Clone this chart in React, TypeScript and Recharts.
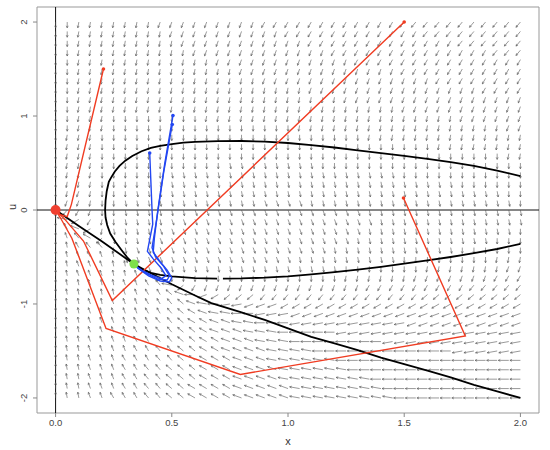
import React from "react";
import {
  ComposedChart,
  ReferenceArea,
  ReferenceLine,
  Scatter,
  XAxis,
  YAxis,
} from "recharts";

// grid of the direction field
const xGrid = [
  0, 0.05, 0.1, 0.15, 0.2, 0.25, 0.3, 0.35, 0.4, 0.45, 0.5, 0.55, 0.6, 0.65, 0.7, 0.75, 0.8, 0.85, 0.9, 0.95, 1,
  1.05, 1.1, 1.15, 1.2, 1.25, 1.3, 1.35, 1.4, 1.45, 1.5, 1.55, 1.6, 1.65, 1.7, 1.75, 1.8, 1.85, 1.9, 1.95, 2,
];
const uGrid = [
  2, 1.9, 1.8, 1.7, 1.6, 1.5, 1.4, 1.3, 1.2, 1.1, 1, 0.9, 0.8, 0.7, 0.6, 0.5, 0.4, 0.3, 0.2, 0.1, 0,
  -0.1, -0.2, -0.3, -0.4, -0.5, -0.6, -0.7, -0.8, -0.9, -1, -1.1, -1.2, -1.3, -1.4, -1.5, -1.6, -1.7, -1.8, -1.9, -2,
];

// arrow directions per row (top to bottom), run-length coded:
// letter = angle / 10 deg ("0".."9","a".."z"), number = how many arrows in a row
const dirRows = [
  "r2 q7 p9 o12 n11",
  "r2 q8 p10 o12 n9",
  "r2 q9 p11 o13 n6",
  "r2 q10 p12 o14 n3",
  "r2 q12 p12 o15",
  "r2 q14 p14 o11",
  "r2 q16 p15 o8",
  "r2 q20 p15 o4",
  "r2 q23 p16",
  "r2 q28 p11",
  "r2 q3 r8 q22 p6",
  "r2 q3 r16 q18 p2",
  "r1 q3 r23 q14",
  "r1 q3 r29 q8",
  "r1 q3 r35 q2",
  "r1 q3 r11 s8 r18",
  "r1 q3 r6 s20 r11",
  "r1 q3 r4 s27 r6",
  "r1 q1 p1 q1 r3 s32 r2",
  "r1 p2 q1 r2 s12 t4 s18 r1",
  ".1 n1 o1 p1 r2 s6 t15 s14",
  "91 h1 l1 o1 q1 r1 s4 t18 s13",
  "91 c1 g1 l1 q1 s4 t18 s13 r1",
  "91 b1 d1 f1 m1 s3 t18 s12 r3",
  "91 a1 c1 d2 q1 s1 t17 s11 r6",
  "91 a1 b1 c1 b1 a1 t15 s9 r8 q3",
  "91 a1 b3 a2 91 t2 s15 r7 q7 p2",
  "91 a1 b3 a2 b1 c1 o1 r15 q6 p7 o3",
  "91 a2 b1 a2 b2 c1 d1 h1 m1 o1 p14 o9 n5",
  "91 a2 b1 a2 b2 c2 e1 g1 i1 k1 l1 m3 n14 m9",
  "91 a2 b1 a1 b3 c2 d1 e1 g1 h1 i1 j2 k3 l21",
  "91 a2 b5 c2 d1 e1 f1 g1 h2 i2 j3 k20",
  "91 a2 b4 c2 d2 e1 f2 g2 h2 i3 j10 k10",
  "91 a2 b4 c2 d2 e2 f1 g3 h3 i5 j16",
  "91 a2 b4 c2 d2 e2 f2 g3 h3 i8 j12",
  "91 a2 b4 c2 d2 e2 f2 g4 h4 i12 j6",
  "91 a2 b3 c3 d2 e2 f3 g3 h6 i16",
  "91 a2 b3 c2 d2 e3 f3 g4 h6 i15",
  "91 a2 b3 c2 d2 e3 f3 g4 h8 i13",
  "91 a2 b3 c2 d2 e2 f4 g5 h8 i12",
  "91 a2 b2 c3 d2 e2 f4 g5 h9 i11",
];

// nullclines
const xNullA: [number, number][] = [
  [2.0, 0.36], [1.9, 0.42], [1.8, 0.47], [1.7, 0.51], [1.6, 0.545], [1.5, 0.575], [1.4, 0.605],
  [1.3, 0.635], [1.2, 0.665], [1.1, 0.69], [1.0, 0.713], [0.9, 0.727], [0.8, 0.734], [0.7, 0.733],
  [0.6, 0.725], [0.55, 0.716], [0.5, 0.702], [0.45, 0.683], [0.41, 0.66], [0.37, 0.625], [0.33, 0.575],
  [0.3, 0.525], [0.275, 0.47], [0.255, 0.41], [0.24, 0.35], [0.229, 0.3], [0.22, 0.2], [0.215, 0.1],
  [0.213, 0.0], [0.215, -0.08], [0.222, -0.16], [0.235, -0.25], [0.258, -0.34], [0.285, -0.43],
  [0.31, -0.51], [0.337, -0.575], [0.37, -0.63], [0.41, -0.668], [0.45, -0.69], [0.5, -0.706],
  [0.6, -0.724], [0.695, -0.73],
];
const xNullB: [number, number][] = [
  [0.72, -0.73], [0.8, -0.728], [0.9, -0.72], [1.0, -0.706], [1.1, -0.685], [1.2, -0.66], [1.3, -0.635],
  [1.4, -0.605], [1.5, -0.57], [1.6, -0.535], [1.7, -0.5], [1.8, -0.46], [1.9, -0.415], [2.0, -0.36],
];
const uNull: [number, number][] = [
  [0, 0], [0.1, -0.17], [0.2, -0.335], [0.3, -0.51], [0.337, -0.575], [0.4, -0.66], [0.5, -0.79],
  [0.6, -0.91], [0.67, -0.99], [0.8, -1.09], [0.9, -1.17], [1.0, -1.26], [1.1, -1.35], [1.2, -1.42],
  [1.3, -1.49], [1.4, -1.57], [1.5, -1.64], [1.6, -1.71], [1.7, -1.78], [1.8, -1.86], [1.9, -1.93], [2.0, -2.0],
];

// trajectories
const red1: [number, number][] = [[0.206, 1.5], [0.068, 0.06], [0.05, -0.07], [0.02, -0.05], [0, 0]];
const red2: [number, number][] = [[1.5, 2.0], [0.244, -0.963], [0.12, -0.33], [0.04, -0.1], [0, 0]];
const red3: [number, number][] = [
  [1.497, 0.127], [1.763, -1.34], [0.795, -1.75], [0.217, -1.26], [0.07, -0.3], [0.02, -0.08], [0, 0],
];
const blue1: [number, number][] = [
  [0.505, 1.005], [0.47, 0.5], [0.44, 0.0], [0.425, -0.3], [0.42, -0.45], [0.45, -0.55], [0.48, -0.64],
  [0.5, -0.72], [0.49, -0.765], [0.45, -0.755], [0.4, -0.7], [0.36, -0.63], [0.34, -0.58],
];
const blue2: [number, number][] = [
  [0.502, 0.91], [0.465, 0.4], [0.435, -0.1], [0.415, -0.4], [0.43, -0.5], [0.465, -0.6], [0.49, -0.7],
  [0.48, -0.745], [0.44, -0.735], [0.39, -0.675], [0.35, -0.61],
];
const blue3: [number, number][] = [
  [0.405, 0.606], [0.415, 0.0], [0.418, -0.15], [0.395, -0.44], [0.42, -0.52], [0.455, -0.62],
  [0.475, -0.7], [0.455, -0.73], [0.41, -0.69], [0.37, -0.64], [0.345, -0.6],
];

const redStarts: [number, number][] = [[0.206, 1.5], [1.5, 2.0], [1.497, 0.127]];
const blueStarts: [number, number][] = [[0.505, 1.005], [0.502, 0.91], [0.405, 0.606]];
const origin: [number, number][] = [[0, 0]];
const saddle: [number, number][] = [[0.337, -0.575]];

const xTicks = [0, 0.5, 1, 1.5, 2];
const uTicks = [-2, -1, 0, 1, 2];

const CODES = "0123456789abcdefghijklmnopqrstuvwxyz";
const FONT = "'Liberation Sans', Arial, sans-serif";

function decodeRow(row: string) {
  const out: (number | null)[] = [];
  row.split(" ").forEach((tok) => {
    const ch = tok[0];
    const n = parseInt(tok.slice(1), 10);
    for (let k = 0; k < n; k++) out.push(ch === "." ? null : CODES.indexOf(ch) * 10);
  });
  return out;
}

const field: { x: number; y: number; a: number | null }[] = [];
uGrid.forEach((u, j) => {
  const angles = decodeRow(dirRows[j]);
  xGrid.forEach((x, i) => field.push({ x, y: u, a: angles[i] ?? null }));
});

const pts = (arr: [number, number][]) => arr.map(([x, y]) => ({ x, y }));

const Arrow = (props: any) => {
  const { cx, cy, payload } = props;
  if (payload.a == null || cx == null) return <g />;
  const t = (payload.a * Math.PI) / 180;
  const c = Math.cos(t);
  const s = Math.sin(t);
  const len = 1 / Math.sqrt((c / 10.5) ** 2 + (s / 5.8) ** 2);
  const tx = cx + c * len;
  const ty = cy - s * len;
  const back = t + Math.PI;
  const h = 2.3;
  const w = 0.45;
  const h1x = tx + h * Math.cos(back - w);
  const h1y = ty - h * Math.sin(back - w);
  const h2x = tx + h * Math.cos(back + w);
  const h2y = ty - h * Math.sin(back + w);
  return (
    <path
      d={`M${cx},${cy}L${tx},${ty}M${h1x},${h1y}L${tx},${ty}L${h2x},${h2y}`}
      stroke="#555"
      strokeWidth={0.6}
      fill="none"
    />
  );
};

const NoDot = () => <g />;

const dot = (r: number, fill: string) => (props: any) =>
  props.cx == null ? <g /> : <circle cx={props.cx} cy={props.cy} r={r} fill={fill} />;

const XTick = ({ x, y, payload }: any) => (
  <text x={x} y={y + 7} textAnchor="middle" fontSize={9.5} fill="#444" fontFamily={FONT}>
    {Number(payload.value).toFixed(1)}
  </text>
);

const YTick = ({ x, y, payload }: any) => (
  <text
    x={x - 4}
    y={y}
    transform={`rotate(-90 ${x - 4} ${y})`}
    textAnchor="middle"
    fontSize={9.5}
    fill="#444"
    fontFamily={FONT}
  >
    {String(payload.value)}
  </text>
);

const line = (color: string, w: number) => ({ stroke: color, strokeWidth: w });

export default function App() {
  return (
    <div style={{ position: "absolute", left: 0, top: 0, background: "#fff" }}>
      <ComposedChart width={550} height={450} margin={{ top: 7, right: 11, left: 0, bottom: 0 }}>
        <XAxis
          type="number"
          dataKey="x"
          domain={[-0.08, 2.08]}
          ticks={xTicks}
          allowDataOverflow
          height={37}
          axisLine={false}
          tickSize={4}
          tickLine={{ stroke: "#888" }}
          tick={<XTick />}
          label={{ value: "x", position: "insideBottom", offset: 5, fontSize: 11, fill: "#333", fontFamily: FONT }}
        />
        <YAxis
          type="number"
          dataKey="y"
          domain={[-2.16, 2.16]}
          ticks={uTicks}
          allowDataOverflow
          width={37}
          axisLine={false}
          tickSize={4}
          tickLine={{ stroke: "#888" }}
          tick={<YTick />}
          label={{ value: "u", angle: -90, position: "insideLeft", offset: 12, fontSize: 11, fill: "#333", fontFamily: FONT }}
        />
        <ReferenceArea x1={-0.08} x2={2.08} y1={-2.16} y2={2.16} fill="none" stroke="#999" strokeWidth={1} />
        <Scatter data={field} shape={Arrow} isAnimationActive={false} />
        <ReferenceLine x={0} stroke="#111" strokeWidth={1} />
        <ReferenceLine y={0} stroke="#111" strokeWidth={1} />
        <Scatter data={pts(xNullA)} line={line("#000", 1.8)} shape={NoDot} isAnimationActive={false} />
        <Scatter data={pts(xNullB)} line={line("#000", 1.8)} shape={NoDot} isAnimationActive={false} />
        <Scatter data={pts(uNull)} line={line("#000", 1.8)} shape={NoDot} isAnimationActive={false} />
        <Scatter data={pts(red1)} line={line("#f03c22", 1.4)} shape={NoDot} isAnimationActive={false} />
        <Scatter data={pts(red2)} line={line("#f03c22", 1.4)} shape={NoDot} isAnimationActive={false} />
        <Scatter data={pts(red3)} line={line("#f03c22", 1.4)} shape={NoDot} isAnimationActive={false} />
        <Scatter data={pts(blue1)} line={line("#2347f2", 1.4)} shape={NoDot} isAnimationActive={false} />
        <Scatter data={pts(blue2)} line={line("#2347f2", 1.4)} shape={NoDot} isAnimationActive={false} />
        <Scatter data={pts(blue3)} line={line("#2347f2", 1.4)} shape={NoDot} isAnimationActive={false} />
        <Scatter data={pts(redStarts)} shape={dot(1.8, "#f03c22")} isAnimationActive={false} />
        <Scatter data={pts(blueStarts)} shape={dot(1.8, "#2347f2")} isAnimationActive={false} />
        <Scatter data={pts(origin)} shape={dot(5, "#f04030")} isAnimationActive={false} />
        <Scatter data={pts(saddle)} shape={dot(4.5, "#7ee04a")} isAnimationActive={false} />
      </ComposedChart>
    </div>
  );
}
